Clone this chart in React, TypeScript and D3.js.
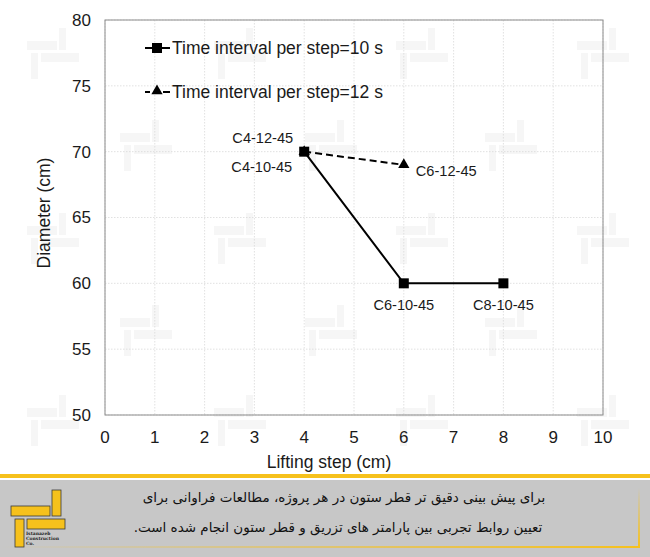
import React from "react";
import * as d3 from "d3";

const xTicks = [0, 1, 2, 3, 4, 5, 6, 7, 8, 9, 10];
const yTicks = [50, 55, 60, 65, 70, 75, 80];
const series10X = [4, 6, 8];
const series10Y = [70, 60, 60];
const series10Labels = ["C4-10-45", "C6-10-45", "C8-10-45"];
const series12X = [4, 6];
const series12Y = [70, 69];
const series12Labels = ["C4-12-45", "C6-12-45"];
const legendNames = ["Time interval per step=10 s", "Time interval per step=12 s"];
const xTitle = "Lifting step (cm)";
const yTitle = "Diameter (cm)";
const bannerLines = [
  "برای پیش بینی دقیق تر قطر ستون در هر پروژه، مطالعات فراوانی برای",
  "تعیین روابط تجربی بین پارامتر های تزریق و قطر ستون انجام شده است.",
];

const W = 650;
const H = 557;
const L = 105, R = 603, T = 20, B = 415;
const GOLD = "#f6c11c";
const FONT = "'Liberation Sans', Arial, sans-serif";

function Mark({ x, y, c }: { x: number; y: number; c: string }) {
  return (
    <g transform={`translate(${x},${y})`} fill={c}>
      <rect x={32} y={0} width={7} height={22} />
      <rect x={0} y={13} width={30} height={9} />
      <rect x={14} y={25} width={38} height={9} />
      <rect x={4} y={25} width={7} height={26} />
    </g>
  );
}

export default function App() {
  const x = d3.scaleLinear().domain([0, 10]).range([L, R]);
  const y = d3.scaleLinear().domain([50, 80]).range([B, T]);
  const line = d3
    .line<[number, number]>()
    .x((d) => x(d[0]))
    .y((d) => y(d[1]));
  const s10 = series10X.map((v, i) => [v, series10Y[i]] as [number, number]);
  const s12 = series12X.map((v, i) => [v, series12Y[i]] as [number, number]);
  const tri = d3.symbol().type(d3.symbolTriangle).size(55)();

  const wmRowsA = [28, 213, 395];
  const wmRowsB = [120, 305];
  const wmColsA = [27, 214, 396, 577];
  const wmColsB = [120, 305, 485];

  const label10Off: [number, number, string][] = [
    [-12, 20, "end"],
    [0, 27, "middle"],
    [0, 27, "middle"],
  ];
  const label12Off: [number, number, string][] = [
    [-11, -9, "end"],
    [12, 11, "start"],
  ];
  const bannerX = [344, 338];

  return (
    <svg
      width={W}
      height={H}
      style={{ position: "absolute", left: 0, top: 0, display: "block" }}
      fontFamily={FONT}
    >
      <rect x={0} y={0} width={W} height={H} fill="#ffffff" />
      {wmRowsA.map((ry) =>
        wmColsA.map((cx) => <Mark key={`a${ry}-${cx}`} x={cx} y={ry} c="#f6f6f6" />)
      )}
      {wmRowsB.map((ry) =>
        wmColsB.map((cx) => <Mark key={`b${ry}-${cx}`} x={cx} y={ry} c="#f6f6f6" />)
      )}
      {xTicks.map((t) => (
        <line
          key={`gx${t}`}
          x1={x(t)}
          x2={x(t)}
          y1={T}
          y2={B}
          stroke="#d9d9d9"
          strokeDasharray="1.5,1.5"
          strokeWidth={0.8}
        />
      ))}
      {yTicks.map((t) => (
        <line
          key={`gy${t}`}
          x1={L}
          x2={R}
          y1={y(t)}
          y2={y(t)}
          stroke="#d9d9d9"
          strokeDasharray="1.5,1.5"
          strokeWidth={0.8}
        />
      ))}
      <rect x={L} y={T} width={R - L} height={B - T} fill="none" stroke="#8c8c8c" strokeWidth={1} />
      {yTicks.map((t) => (
        <text
          key={`ty${t}`}
          x={L - 14}
          y={y(t)}
          dy="0.35em"
          textAnchor="end"
          fontSize={17}
          fill="#1a1a1a"
        >
          {t}
        </text>
      ))}
      {xTicks.map((t) => (
        <text
          key={`tx${t}`}
          x={x(t)}
          y={B + 22}
          dy="0.35em"
          textAnchor="middle"
          fontSize={17}
          fill="#1a1a1a"
        >
          {t}
        </text>
      ))}
      <text x={329} y={462} dy="0.35em" textAnchor="middle" fontSize={17.5} fill="#1a1a1a">
        {xTitle}
      </text>
      <text
        transform={`translate(44,213) rotate(-90)`}
        textAnchor="middle"
        dy="0.35em"
        fontSize={17.5}
        fill="#1a1a1a"
      >
        {yTitle}
      </text>
      <path d={line(s12) || ""} fill="none" stroke="#000" strokeWidth={2} strokeDasharray="7,4" />
      <path d={line(s10) || ""} fill="none" stroke="#000" strokeWidth={2} />
      {s12.map((d, i) => (
        <path key={`t${i}`} d={tri || ""} transform={`translate(${x(d[0])},${y(d[1])})`} fill="#000" />
      ))}
      {s10.map((d, i) => (
        <rect key={`s${i}`} x={x(d[0]) - 5} y={y(d[1]) - 5} width={10} height={10} fill="#000" />
      ))}
      {s10.map((d, i) => (
        <text
          key={`l10${i}`}
          x={x(d[0]) + label10Off[i][0]}
          y={y(d[1]) + label10Off[i][1]}
          textAnchor={label10Off[i][2] as any}
          fontSize={14.6}
          fill="#1a1a1a"
        >
          {series10Labels[i]}
        </text>
      ))}
      {s12.map((d, i) => (
        <text
          key={`l12${i}`}
          x={x(d[0]) + label12Off[i][0]}
          y={y(d[1]) + label12Off[i][1]}
          textAnchor={label12Off[i][2] as any}
          fontSize={14.6}
          fill="#1a1a1a"
        >
          {series12Labels[i]}
        </text>
      ))}
      <g>
        <line x1={145} x2={170} y1={48} y2={48} stroke="#000" strokeWidth={2} />
        <rect x={152} y={43} width={10} height={10} fill="#000" />
        <text x={172} y={48} dy="0.35em" fontSize={17.5} fill="#1a1a1a">
          {legendNames[0]}
        </text>
        <line x1={145} x2={150} y1={92} y2={92} stroke="#000" strokeWidth={2} />
        <line x1={163} x2={170} y1={92} y2={92} stroke="#000" strokeWidth={2} />
        <path d={tri || ""} transform="translate(157,91)" fill="#000" />
        <text x={172} y={92} dy="0.35em" fontSize={17.5} fill="#1a1a1a">
          {legendNames[1]}
        </text>
      </g>
      <rect x={0} y={474} width={W} height={4} fill={GOLD} />
      <rect x={0} y={480} width={W} height={H - 480} fill="#c7c7c7" />
      <defs>
        <linearGradient id="gv" x1="0" y1="1" x2="0" y2="0">
          <stop offset="0" stopColor={GOLD} />
          <stop offset="1" stopColor={GOLD} stopOpacity={0} />
        </linearGradient>
        <linearGradient id="gh" x1="1" y1="0" x2="0" y2="0">
          <stop offset="0" stopColor={GOLD} />
          <stop offset="1" stopColor={GOLD} stopOpacity={0} />
        </linearGradient>
      </defs>
      <rect x={638} y={488} width={2} height={60} fill="url(#gv)" />
      <rect x={0} y={546} width={640} height={2} fill="url(#gh)" />
      <g stroke="#3a3a3a" strokeWidth={0.8} fill={GOLD}>
        <rect x={52} y={490} width={9} height={26} />
        <rect x={11} y={506} width={39} height={10} />
        <rect x={27} y={519} width={38} height={10} />
        <rect x={15} y={519} width={9} height={28} />
      </g>
      <g fontSize={4.5} fill="#222" fontFamily="'DejaVu Serif', serif" fontWeight="bold">
        <text x={26} y={535}>Istanazeb</text>
        <text x={26} y={540}>Construction</text>
        <text x={26} y={545}>Co.</text>
      </g>
      {bannerLines.map((s, i) => (
        <text
          key={`b${i}`}
          x={bannerX[i]}
          y={497 + i * 30}
          dy="0.35em"
          textAnchor="middle"
          direction="rtl"
          fontSize={13.5}
          fill="#111"
          fontFamily="'DejaVu Sans', sans-serif"
        >
          {s}
        </text>
      ))}
    </svg>
  );
}
